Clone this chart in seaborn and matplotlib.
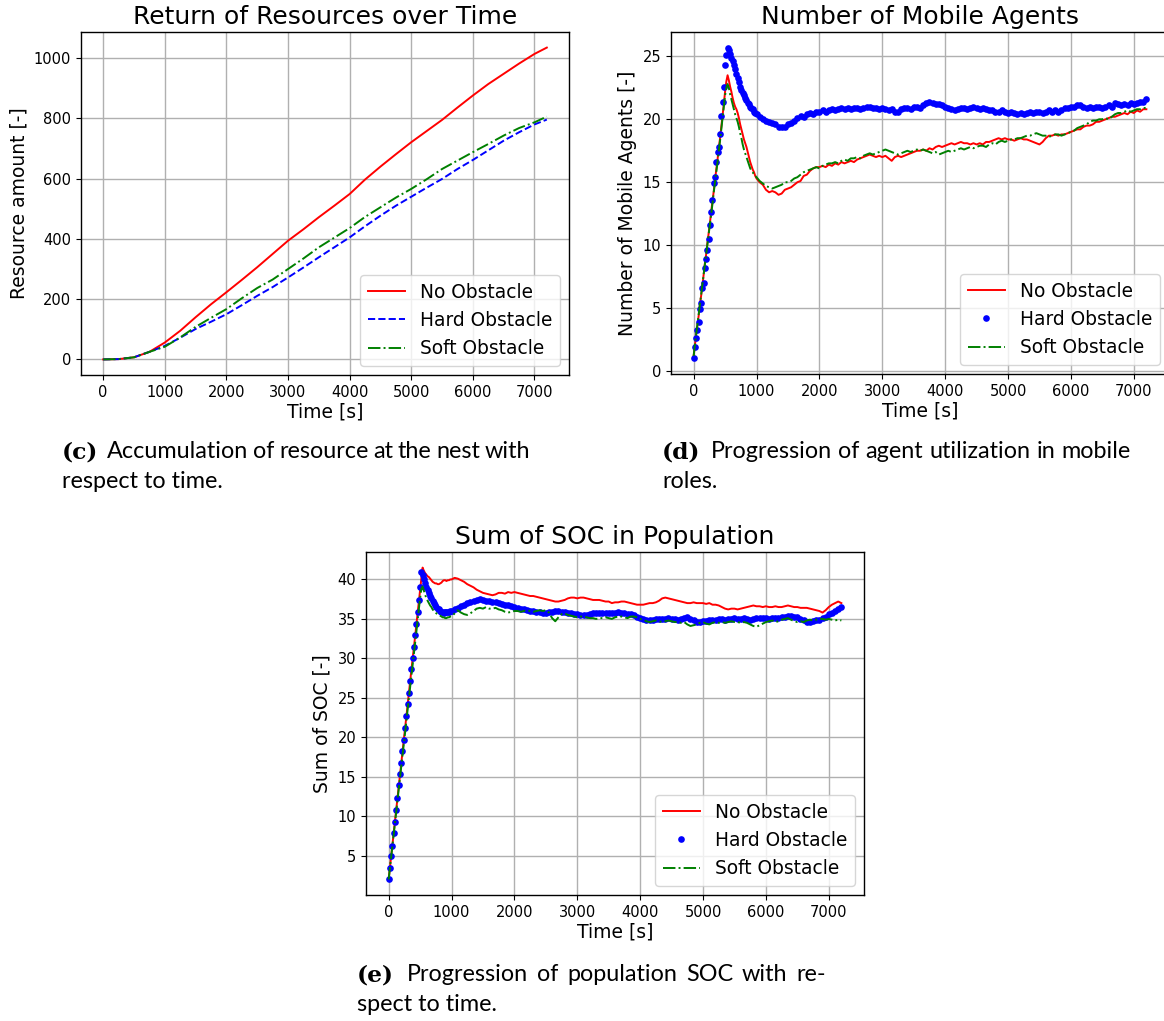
import matplotlib
matplotlib.use("Agg")
import matplotlib.pyplot as plt
from matplotlib.font_manager import FontProperties
import seaborn as sns

# ---------------------------------------------------------------- data
LABELS = ["No Obstacle", "Hard Obstacle", "Soft Obstacle"]

# (c) accumulated resource at the nest
time_c = [0, 250, 500, 750, 1000, 1250, 1500, 1750, 2000, 2250,
          2500, 2750, 3000, 3250, 3500, 3750, 4000, 4250, 4500, 4750,
          5000, 5250, 5500, 5750, 6000, 6250, 6500, 6750, 7000, 7200]
res_none = [0, 1, 7, 25, 56, 95, 140, 183, 223, 264,
            306, 350, 394, 432, 472, 510, 549, 597, 640, 681,
            721, 758, 795, 836, 876, 914, 948, 982, 1014, 1035]
res_hard = [0, 1, 7, 25, 45, 72, 101, 125, 150, 180,
            211, 240, 272, 305, 339, 372, 405, 442, 477, 510,
            540, 570, 599, 632, 662, 694, 726, 754, 780, 796]
res_soft = [0, 1, 7, 25, 42, 73, 108, 138, 167, 203,
            237, 265, 300, 335, 372, 404, 436, 473, 505, 537,
            566, 598, 632, 660, 688, 715, 743, 768, 787, 806]

# sampling instants for (d) and (e): 20 s up to 1000 s, 50 s afterwards
time_de = list(range(0, 1001, 20)) + list(range(1050, 7201, 50))

# (d) number of mobile agents
mob_none = [1.2, 2.0, 2.9, 3.6, 4.4, 5.3, 6.0, 6.8, 7.7, 8.6,
            9.3, 10.2, 11.0, 11.8, 12.7, 13.5, 14.3, 15.2, 16.0, 16.8,
            17.7, 18.5, 19.4, 20.3, 21.2, 22.2, 23.0, 23.5, 23.1, 22.6, 22.2,
            21.7, 21.3, 21.0, 20.8, 20.5, 20.1, 19.6, 19.2, 18.8, 18.4,
            18.1, 17.8, 17.4, 17.0, 16.6, 16.3, 16.0, 15.8, 15.5, 15.3,
            15.0, 14.8, 14.4, 14.2, 14.3, 14.2, 14.0, 14.1, 14.4, 14.5,
            14.6, 14.8, 15.0, 15.1, 15.5, 15.6, 15.9, 16.1, 16.2, 16.2,
            16.3, 16.2, 16.4, 16.3, 16.5, 16.4, 16.6, 16.5, 16.6, 16.7,
            16.6, 16.8, 16.9, 17.0, 17.1, 17.2, 17.1, 17.0, 17.1, 17.0,
            17.1, 16.9, 16.7, 17.0, 17.1, 17.0, 17.1, 17.2, 17.3, 17.4,
            17.5, 17.5, 17.6, 17.5, 17.7, 17.6, 17.8, 17.9, 17.8, 17.9,
            18.0, 18.1, 18.0, 18.1, 18.2, 18.1, 18.1, 18.0, 18.1, 18.0,
            18.1, 18.0, 18.2, 18.2, 18.3, 18.4, 18.5, 18.4, 18.5, 18.4,
            18.4, 18.3, 18.4, 18.5, 18.4, 18.4, 18.3, 18.2, 18.1, 18.0,
            18.2, 18.5, 18.7, 18.7, 18.8, 18.7, 18.8, 18.8, 18.9, 19.0,
            19.1, 19.2, 19.2, 19.4, 19.5, 19.5, 19.6, 19.8, 19.8, 19.9,
            20.0, 20.1, 20.2, 20.2, 20.3, 20.4, 20.5, 20.4, 20.6, 20.5,
            20.7, 20.6, 20.8, 20.8]
mob_hard = [1.0, 1.9, 2.6, 3.3, 3.9, 4.9, 5.4, 6.6, 7.0, 8.2,
            8.9, 9.6, 10.5, 11.6, 12.6, 13.6, 14.9, 15.4, 16.6, 17.4,
            17.8, 18.8, 20.3, 21.4, 22.6, 24.3, 25.1, 25.7, 25.5, 25.2, 24.9,
            24.6, 24.3, 24.0, 23.6, 23.3, 23.0, 22.6, 22.3, 22.1, 21.9,
            21.7, 21.5, 21.3, 21.2, 21.0, 20.9, 20.8, 20.6, 20.5, 20.4,
            20.2, 20.0, 19.9, 19.8, 19.7, 19.6, 19.4, 19.35, 19.4, 19.6,
            19.7, 19.9, 20.1, 20.3, 20.2, 20.4, 20.5, 20.4, 20.6, 20.6,
            20.7, 20.6, 20.7, 20.8, 20.7, 20.8, 20.9, 20.8, 20.9, 20.8,
            20.9, 20.9, 20.8, 20.9, 21.0, 21.0, 20.9, 20.9, 20.8, 20.9,
            20.8, 20.7, 20.8, 20.6, 20.6, 20.8, 20.9, 20.9, 20.8, 21.0,
            21.0, 20.9, 21.1, 21.3, 21.4, 21.3, 21.2, 21.2, 21.1, 21.0,
            20.9, 20.8, 20.7, 20.8, 20.9, 20.9, 20.8, 20.9, 21.0, 20.9,
            20.8, 20.9, 20.8, 20.7, 20.7, 20.6, 20.6, 20.7, 20.6, 20.5,
            20.6, 20.5, 20.4, 20.5, 20.4, 20.5, 20.6, 20.5, 20.6, 20.6,
            20.5, 20.6, 20.7, 20.6, 20.7, 20.6, 20.7, 20.9, 20.9, 21.0,
            21.0, 21.1, 21.1, 21.0, 20.9, 21.0, 20.9, 21.0, 21.0, 20.9,
            21.0, 21.1, 21.0, 21.3, 21.2, 21.1, 21.2, 21.1, 21.3, 21.2,
            21.3, 21.4, 21.4, 21.6]
mob_soft = [1.2, 2.1, 2.9, 3.7, 4.5, 5.3, 6.1, 6.9, 7.7, 8.5,
            9.3, 10.1, 10.9, 11.7, 12.5, 13.3, 14.2, 15.0, 15.8, 16.6,
            17.5, 18.3, 19.2, 20.1, 21.0, 21.9, 22.5, 22.8, 22.5, 22.0, 21.6,
            21.2, 20.8, 20.4, 20.1, 19.8, 19.4, 18.9, 18.5, 18.0, 17.6,
            17.3, 17.0, 16.7, 16.4, 16.1, 15.9, 15.8, 15.6, 15.5, 15.4,
            15.1, 14.9, 14.7, 14.6, 14.5, 14.6, 14.7, 14.8, 15.0, 15.0,
            15.1, 15.3, 15.4, 15.6, 15.8, 15.9, 16.0, 16.1, 16.2, 16.1,
            16.3, 16.4, 16.5, 16.5, 16.6, 16.5, 16.7, 16.8, 16.7, 16.9,
            16.9, 17.0, 16.9, 17.1, 17.2, 17.3, 17.2, 17.3, 17.4, 17.5,
            17.6, 17.5, 17.4, 17.3, 17.2, 17.3, 17.4, 17.5, 17.4, 17.5,
            17.6, 17.5, 17.6, 17.5, 17.4, 17.3, 17.4, 17.2, 17.3, 17.4,
            17.5, 17.4, 17.5, 17.6, 17.7, 17.6, 17.7, 17.8, 17.7, 17.8,
            17.9, 17.9, 17.8, 18.0, 18.1, 18.0, 18.2, 18.3, 18.2, 18.3,
            18.4, 18.4, 18.5, 18.5, 18.6, 18.7, 18.7, 18.8, 18.9, 18.8,
            18.7, 18.7, 18.6, 18.7, 18.8, 18.8, 18.7, 18.8, 18.9, 19.0,
            19.1, 19.3, 19.4, 19.5, 19.6, 19.8, 19.9, 19.9, 20.0, 20.0,
            20.1, 20.0, 20.2, 20.4, 20.5, 20.5, 20.6, 20.7, 20.6, 20.7,
            20.8, 20.8, 20.9, 20.9]

# (e) sum of state of charge over the population
soc_none = [2.0, 3.4, 4.9, 6.4, 7.8, 9.3, 10.8, 12.2, 13.7, 15.2,
            16.6, 18.1, 19.6, 21.0, 22.5, 24.0, 25.4, 26.9, 28.4, 29.8,
            31.3, 32.7, 34.2, 35.7, 37.1, 38.6, 40.1, 41.5, 41.1, 40.8, 40.6,
            40.4, 40.3, 40.1, 39.9, 39.7, 39.6, 39.5, 39.5, 39.4, 39.4,
            39.5, 39.6, 39.8, 39.9, 39.9, 39.8, 39.9, 39.9, 40.0, 40.0,
            40.2, 40.1, 39.9, 39.7, 39.4, 39.2, 39.0, 38.7, 38.5, 38.3,
            38.2, 38.1, 38.0, 38.1, 38.3, 38.3, 38.2, 38.4, 38.3, 38.4,
            38.3, 38.2, 38.1, 38.0, 37.9, 37.9, 37.8, 37.7, 37.6, 37.5,
            37.4, 37.3, 37.2, 37.2, 37.3, 37.4, 37.6, 37.7, 37.7, 37.6,
            37.7, 37.7, 37.6, 37.5, 37.4, 37.4, 37.4, 37.3, 37.2, 37.2,
            37.0, 37.1, 37.1, 37.2, 37.2, 37.1, 37.0, 36.9, 36.8, 36.8,
            36.8, 36.9, 37.0, 37.0, 37.1, 37.3, 37.6, 37.7, 37.6, 37.5,
            37.4, 37.3, 37.2, 37.1, 37.0, 37.0, 37.1, 37.0, 37.0, 37.0,
            36.9, 37.0, 36.8, 36.8, 36.7, 36.5, 36.3, 36.2, 36.3, 36.3,
            36.2, 36.3, 36.4, 36.5, 36.6, 36.7, 36.6, 36.6, 36.5, 36.6,
            36.5, 36.5, 36.6, 36.5, 36.5, 36.6, 36.7, 36.6, 36.5, 36.5,
            36.4, 36.4, 36.4, 36.3, 36.2, 36.1, 36.0, 35.8, 36.1, 36.5,
            36.8, 37.0, 37.2, 37.0]
soc_hard = [2.0, 3.5, 5.0, 6.2, 7.9, 9.3, 10.8, 12.3, 13.9, 15.3,
            16.8, 18.3, 19.7, 21.2, 22.7, 24.2, 25.6, 27.1, 28.6, 30.0,
            31.5, 33.0, 34.4, 35.9, 37.4, 39.0, 41.0, 40.6, 40.0, 39.5, 39.0,
            38.6, 38.3, 37.9, 37.6, 37.3, 37.0, 36.7, 36.5, 36.3, 36.2,
            36.0, 35.9, 35.9, 35.8, 35.9, 35.9, 35.9, 35.9, 36.0, 36.0,
            36.2, 36.4, 36.6, 36.8, 37.0, 37.2, 37.3, 37.4, 37.5, 37.4,
            37.3, 37.3, 37.2, 37.1, 37.0, 36.9, 36.8, 36.7, 36.6, 36.5,
            36.4, 36.3, 36.2, 36.1, 36.0, 36.0, 35.9, 35.9, 35.8, 35.8,
            35.9, 35.9, 36.0, 36.0, 35.9, 35.9, 35.8, 35.7, 35.6, 35.6,
            35.5, 35.5, 35.5, 35.6, 35.7, 35.7, 35.8, 35.8, 35.8, 35.7,
            35.7, 35.8, 35.9, 35.8, 35.7, 35.6, 35.6, 35.5, 35.3, 35.1,
            35.0, 34.9, 34.9, 34.9, 35.0, 35.0, 35.0, 35.0, 35.1, 35.0,
            35.0, 34.9, 35.0, 35.1, 35.2, 35.0, 34.8, 34.6, 34.6, 34.7,
            34.7, 34.8, 34.8, 34.9, 35.0, 35.0, 34.9, 35.0, 35.0, 35.1,
            35.0, 35.0, 35.1, 35.0, 34.9, 35.0, 35.1, 35.1, 35.1, 35.1,
            35.0, 35.1, 35.1, 35.1, 35.2, 35.3, 35.4, 35.4, 35.3, 35.2,
            35.0, 34.8, 34.6, 34.6, 34.7, 34.8, 34.9, 35.1, 35.3, 35.6,
            35.8, 36.0, 36.2, 36.5]
soc_soft = [2.0, 3.4, 4.8, 6.3, 7.7, 9.1, 10.5, 12.0, 13.4, 14.8,
            16.2, 17.7, 19.1, 20.5, 21.9, 23.4, 24.8, 26.2, 27.6, 29.1,
            30.5, 31.9, 33.3, 34.8, 36.2, 37.6, 38.8, 39.1, 38.6, 38.1, 37.6,
            37.3, 37.0, 36.7, 36.5, 36.2, 36.0, 35.8, 35.7, 35.6, 35.5,
            35.4, 35.3, 35.2, 35.2, 35.1, 35.1, 35.2, 35.2, 35.3, 35.3,
            35.7, 36.1, 35.8, 35.6, 35.5, 35.7, 36.0, 36.3, 36.4, 36.3,
            36.5, 36.3, 36.3, 36.4, 36.2, 36.1, 35.9, 35.8, 35.9, 36.0,
            36.0, 35.9, 36.0, 36.1, 36.0, 35.9, 36.0, 36.1, 36.0, 36.1,
            35.8, 35.1, 34.7, 35.2, 35.6, 35.7, 35.5, 35.4, 35.3, 35.2,
            35.3, 35.3, 35.2, 35.1, 35.1, 35.0, 35.1, 35.1, 35.2, 35.1,
            35.0, 35.2, 35.3, 35.3, 35.2, 35.1, 35.3, 35.3, 35.2, 35.0,
            34.9, 34.7, 34.6, 34.7, 34.8, 34.7, 34.6, 34.7, 34.8, 34.7,
            34.6, 34.6, 34.5, 34.6, 34.3, 34.1, 34.2, 34.3, 34.5, 34.6,
            34.4, 34.3, 34.5, 34.6, 34.5, 34.6, 34.5, 34.6, 34.7, 34.6,
            34.6, 34.5, 34.6, 34.5, 34.3, 34.1, 34.0, 34.2, 34.4, 34.6,
            34.7, 34.8, 34.6, 34.7, 34.9, 35.0, 35.1, 34.9, 34.7, 34.6,
            34.7, 34.6, 34.8, 34.9, 34.8, 34.9, 35.0, 35.0, 34.9, 35.0,
            34.9, 34.8, 34.9, 34.8]

# ---------------------------------------------------------------- figure
W, H = 1164, 1021
fig = plt.figure(figsize=(W / 100, H / 100), dpi=100)
fig.patch.set_facecolor("white")

RED, BLUE, GREEN = "red", "blue", "green"


def axes_px(x0, x1, y0, y1):
    """Axes placed by pixel box (left, right, top, bottom)."""
    return fig.add_axes([x0 / W, 1 - y1 / H, (x1 - x0) / W, (y1 - y0) / H])


def finish(ax, title, ylabel):
    ax.set_title(title, fontsize=18, pad=6)
    ax.set_xlabel("Time [s]", fontsize=13.5, labelpad=2)
    ax.set_ylabel(ylabel, fontsize=13.5)
    ax.set_xticks(range(0, 7001, 1000))
    ax.tick_params(labelsize=10.5)
    ax.grid(True, color="#b0b0b0", linewidth=1.0)
    for sp in ax.spines.values():
        sp.set_color("black")
        sp.set_linewidth(1.0)
    ax.legend(loc="lower right", fontsize=13.4, framealpha=0.8,
              edgecolor="#cccccc", handlelength=2.0)


def three_series(ax, t, y_none, y_hard, y_soft, hard_dashed):
    sns.lineplot(x=t, y=y_none, ax=ax, color=RED, linewidth=1.4,
                 errorbar=None, label=LABELS[0])
    if hard_dashed:
        sns.lineplot(x=t, y=y_hard, ax=ax, color=BLUE, linewidth=1.4,
                     linestyle="--", errorbar=None, label=LABELS[1])
    else:
        sns.lineplot(x=t, y=y_hard, ax=ax, color=BLUE, linestyle="none",
                     marker="o", markersize=4.8, markeredgewidth=0,
                     errorbar=None, label=LABELS[1])
    sns.lineplot(x=t, y=y_soft, ax=ax, color=GREEN, linewidth=1.4,
                 linestyle="-.", errorbar=None, label=LABELS[2])


ax_c = axes_px(81, 569, 32, 375)
three_series(ax_c, time_c, res_none, res_hard, res_soft, hard_dashed=True)
finish(ax_c, "Return of Resources over Time", "Resource amount [-]")

ax_d = axes_px(671, 1169, 32, 374)
three_series(ax_d, time_de, mob_none, mob_hard, mob_soft, hard_dashed=False)
finish(ax_d, "Number of Mobile Agents", "Number of Mobile Agents [-]")

ax_e = axes_px(366, 864, 552, 895)
three_series(ax_e, time_de, soc_none, soc_hard, soc_soft, hard_dashed=False)
finish(ax_e, "Sum of SOC in Population", "Sum of SOC [-]")

# ---------------------------------------------------------------- captions
CAP_SIZE = 16.8
body_fp = FontProperties(family="Lato", size=CAP_SIZE)
tag_fp = FontProperties(family="DejaVu Serif", weight="bold", size=CAP_SIZE)
renderer = fig.canvas.get_renderer()


def caption(tag, line1, line2, x0, x1, base1, base2):
    """First line justified between x0 and x1, second line left aligned."""
    items = [(tag, tag_fp)] + [(w, body_fp) for w in line1.split()]
    texts = [fig.text(0, 0, w, fontproperties=fp, ha="left", va="baseline")
             for w, fp in items]
    widths = [t.get_window_extent(renderer).width for t in texts]
    extra = 4
    gap = (x1 - x0 - sum(widths) - extra) / (len(texts) - 1)
    x = x0
    for i, (t, w) in enumerate(zip(texts, widths)):
        t.set_position((x / W, 1 - base1 / H))
        x += w + gap + (extra if i == 0 else 0)
    fig.text(x0 / W, 1 - base2 / H, line2, fontproperties=body_fp,
             ha="left", va="baseline")


caption("(c)", "Accumulation of resource at the nest with", "respect to time.",
        62, 530, 458, 488)
caption("(d)", "Progression of agent utilization in mobile", "roles.",
        662, 1131, 458, 488)
caption("(e)", "Progression of population SOC with re-", "spect to time.",
        357, 826, 981, 1011)

fig.savefig("out.png", dpi=100)
